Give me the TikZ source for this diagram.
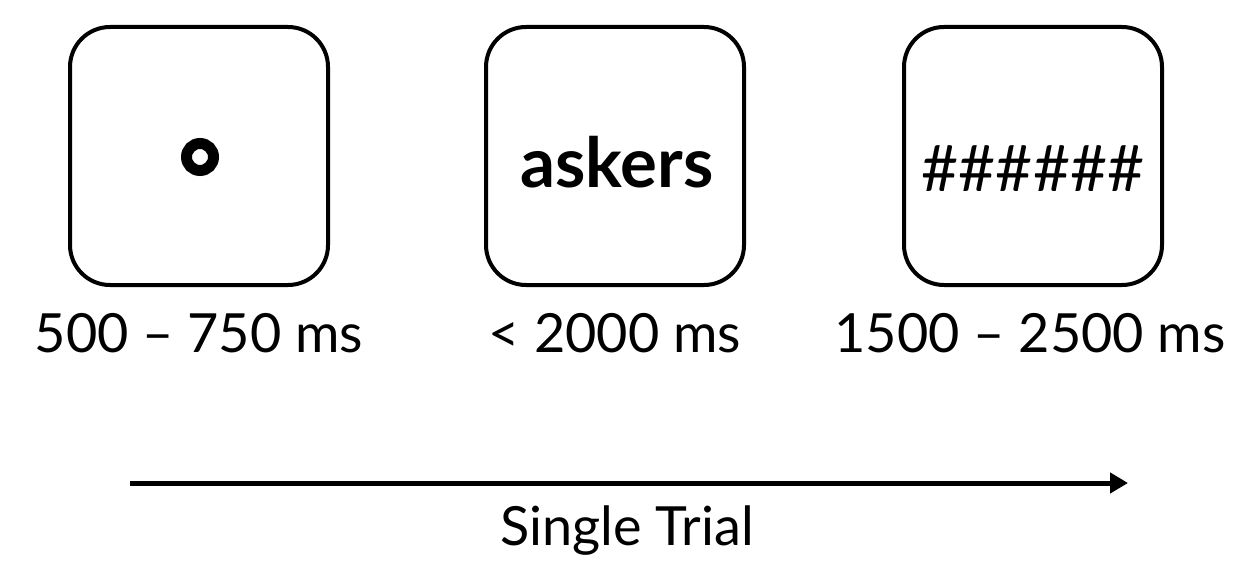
\documentclass[tikz,border=0pt]{standalone}
\usepackage{fontspec}
\setmainfont{Lato}
\usetikzlibrary{arrows.meta}
\begin{document}
\begin{tikzpicture}[x=1pt,y=-1pt,
  screen/.style={draw, line width=4pt, rounded corners=40pt, minimum width=258pt, minimum height=258pt, inner sep=0pt},
  lbl/.style={font=\fontsize{54}{60}\selectfont, anchor=base, inner sep=0pt}]
\useasboundingbox (0,0) rectangle (1233,561);
\node[screen] (s1) at (199,156) {};
\node[screen] (s2) at (615,156) {};
\node[screen] (s3) at (1033,156) {};
\node[circle, draw, line width=11pt, minimum size=27pt, inner sep=0pt] (fix) at (200,157) {};
\node[font=\fontsize{69}{72}\selectfont\bfseries, anchor=base, inner sep=0pt] (word) at (617,188) {askers};
\node[font=\fontsize{64}{70}\selectfont, anchor=base, inner sep=0pt] (mask) at (1033,192) {\#\#\#\#\#\#};
\node[lbl] (t1) at (199,352) {500 – 750 ms};
\node[lbl] (t2) at (615,352) {< 2000 ms};
\node[lbl] (t3) at (1030,352) {1500 – 2500 ms};
\coordinate (a0) at (130,483);
\coordinate (a1) at (1128,483);
\draw[line width=5pt, -{Triangle[length=18pt,width=20pt]}] (a0) -- (a1);
\node[lbl] (cap) at (627,545) {Single Trial};
\end{tikzpicture}
\end{document}
